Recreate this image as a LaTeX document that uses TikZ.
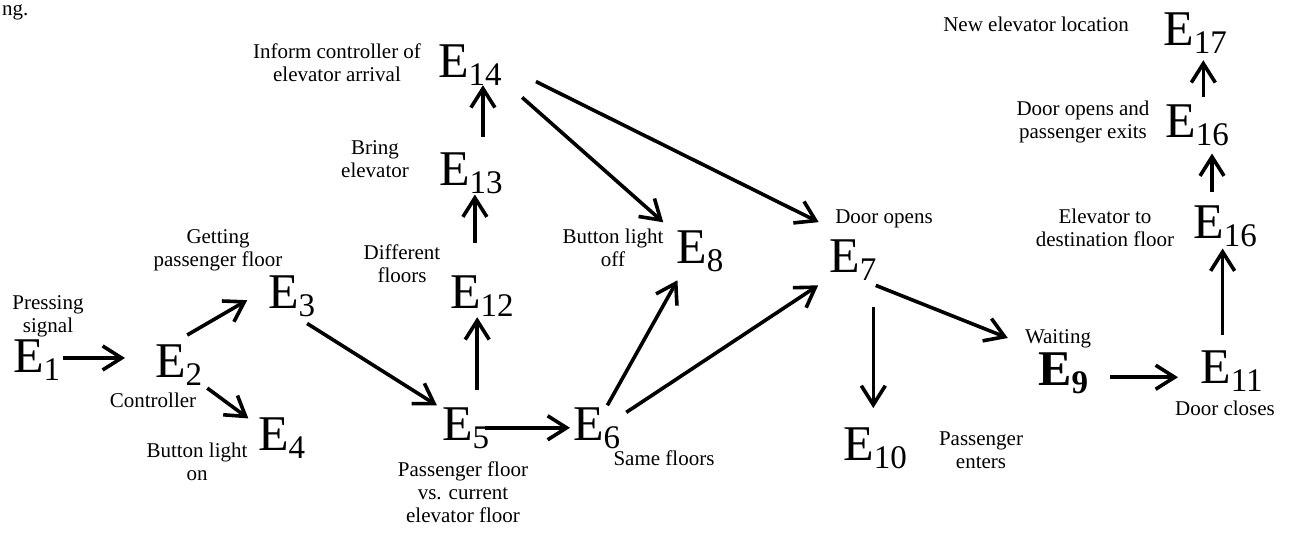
\documentclass[tikz,border=0pt]{standalone}
\usepackage{fontspec}
\setmainfont{Liberation Serif}
\usetikzlibrary{arrows.meta}
\newcommand{\evt}[1]{E\raisebox{-8pt}{\fontsize{33}{33}\selectfont #1}}

\begin{document}
\begin{tikzpicture}[x=1pt, y=-1pt,
 ev/.style={inner sep=0pt, anchor=base west, font=\fontsize{50}{50}\selectfont},
 lbl/.style={inner sep=0pt, align=center, font=\fontsize{21}{23}\selectfont},
 flow/.style={-{Straight Barb[length=19pt,width=24pt]}, line width=3.6pt}]
 \useasboundingbox (0,0) rectangle (1293,552);

 % events
 \node[ev] (e1) at (13,372) {\evt{1}};
 \node[ev] (e2) at (155,377) {\evt{2}};
 \node[ev] (e3) at (268,308) {\evt{3}};
 \node[ev] (e4) at (258,450) {\evt{4}};
 \node[ev] (e5) at (442,440) {\evt{5}};
 \node[ev] (e6) at (573,440) {\evt{6}};
 \node[ev] (e12) at (450,308) {\evt{12}};
 \node[ev] (e13) at (439,185) {\evt{13}};
 \node[ev] (e14) at (438,77) {\evt{14}};
 \node[ev] (e8) at (676,263) {\evt{8}};
 \node[ev] (e7) at (829,272) {\evt{7}};
 \node[ev] (e10) at (843,460) {\evt{10}};
 \node[ev] (e9) at (1038,385) {\bfseries\evt{9}};
 \node[ev] (e11) at (1200,383) {\evt{11}};
 \node[ev] (e16a) at (1193,238) {\evt{16}};
 \node[ev] (e16b) at (1165,137) {\evt{16}};
 \node[ev] (e17) at (1163,45) {\evt{17}};

 % labels
 \node[lbl, anchor=base west] (cut) at (2,15) {ng.};
 \node[lbl, anchor=north] (pressing) at (48,295.5) {Pressing\\signal};
 \node[lbl, anchor=north] (getting) at (218,229.5) {Getting\\passenger floor};
 \node[lbl, anchor=base] (controller) at (153,407) {Controller};
 \node[lbl, anchor=north] (btnon) at (197,442.5) {Button light\\on};
 \node[lbl, anchor=north] (inform) at (337,43.5) {Inform controller of\\elevator arrival};
 \node[lbl, anchor=north] (bring) at (375,140.5) {Bring\\elevator};
 \node[lbl, anchor=north] (different) at (402,244.5) {Different\\floors};
 \node[lbl, anchor=north] (compare) at (463,461.5) {Passenger floor\\vs. current\\elevator floor};
 \node[lbl, anchor=base] (same) at (664,465) {Same floors};
 \node[lbl, anchor=north] (btnoff) at (613,228.5) {Button light\\off};
 \node[lbl, anchor=base] (opens) at (884,223) {Door opens};
 \node[lbl, anchor=north] (enters) at (981,431.5) {Passenger\\enters};
 \node[lbl, anchor=base] (waiting) at (1058,343) {Waiting};
 \node[lbl, anchor=base] (closes) at (1225,415) {Door closes};
 \node[lbl, anchor=north] (dest) at (1105,208.5) {Elevator to\\destination floor};
 \node[lbl, anchor=north] (exits) at (1083,100.5) {Door opens and\\passenger exits};
 \node[lbl, anchor=base] (newloc) at (1036,31) {New elevator location};

 % arrows
 \draw[flow, shorten <=3pt, shorten >=30pt] (e1.4) -- (e1.4 -| e2.west);
 \draw[flow, shorten <=18pt, shorten >=24pt] (e2.109) -- (e3.162);
 \draw[flow, shorten <=6pt, shorten >=12pt] (e2.-40) -- (e4.153);
 \draw[flow, shorten <=13pt, shorten >=6pt] (e3.-78) -- (e5.141);
 \draw[flow, shorten <=-4pt, shorten >=3pt] (e5.east) -- (e6.west);
 \draw[flow, shorten <=17pt, shorten >=1pt] (e5.61) -- (e5.61 |- e12.south);
 \draw[flow, shorten <=32pt, shorten >=1pt] (e12.109) -- (e12.109 |- e13.south);
 \draw[flow, shorten <=15pt] (e13.60) -- (e13.60 |- e14.south);
 \draw[flow, shorten <=27pt, shorten >=17pt] (e14.-25) -- (e8.144);
 \draw[flow, shorten <=38pt, shorten >=38pt] (e14.east) -- (e7.north);
 \draw[flow, shorten <=2pt, shorten >=10pt] (e6.65) -- (e8.230);
 \draw[flow, shorten <=7pt, shorten >=13pt] (e6.26) -- (e7.-142);
 \draw[flow, shorten <=27pt, shorten >=19pt] (e7.-45) -- (e7.-45 |- e10.north);
 \draw[flow, shorten <=14pt, shorten >=38pt] (e7.-64) -- (e9.134);
 \draw[flow, shorten <=22pt, shorten >=22pt] (e9.-10) -- (e9.-10 -| e11.west);
 \draw[flow, shorten <=15pt, shorten >=2pt] (e11.113) -- (e11.113 |- e16a.south);
 \draw[flow, shorten <=13pt, shorten >=8pt] (e16a.122) -- (e16a.122 |- e16b.south);
 \draw[flow, shorten <=7pt, shorten >=7pt] (e16b.73) -- (e16b.73 |- e17.south);
\end{tikzpicture}
\end{document}
